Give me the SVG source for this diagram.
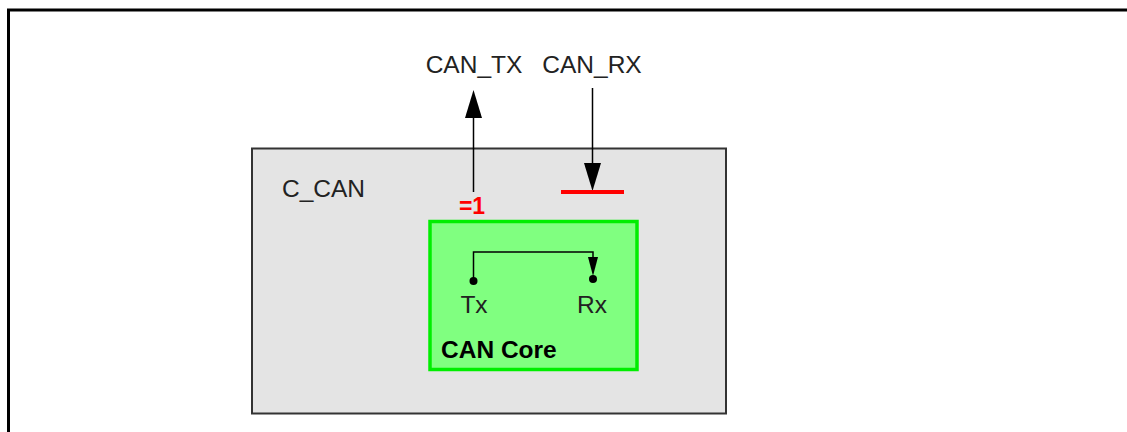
<svg xmlns="http://www.w3.org/2000/svg" width="1127" height="432" viewBox="0 0 1127 432">
<style>
.t{font-family:"Liberation Sans",Arial,sans-serif;font-size:24.5px;fill:#222}
.b{font-weight:bold}
.ln{stroke:#000;stroke-width:1.5;fill:none}
</style>
<rect width="1127" height="432" fill="#fff"/>
<rect x="8.5" y="10" width="1200" height="500" fill="none" stroke="#000" stroke-width="3"/>
<g id="c_can">
<rect x="252" y="148.5" width="474" height="265" fill="#e4e4e4" stroke="#333" stroke-width="2"/>
<text class="t" x="282" y="197">C_CAN</text>
</g>
<g id="can_core">
<rect x="430" y="221.5" width="207" height="148" fill="#80ff80" stroke="#00ee00" stroke-width="3.5"/>
<text class="t" x="474" y="313" text-anchor="middle">Tx</text>
<text class="t" x="592" y="313" text-anchor="middle">Rx</text>
<text class="t b" x="441" y="358" style="fill:#000">CAN Core</text>
</g>
<g id="labels">
<text class="t" x="474" y="73" text-anchor="middle">CAN_TX</text>
<text class="t" x="592" y="73" text-anchor="middle">CAN_RX</text>
<text class="t b" x="472" y="214" text-anchor="middle" style="fill:#ff0000;font-size:23px">=1</text>
</g>
<g id="connectors">
<line class="ln" x1="473.5" y1="192" x2="473.5" y2="115"/>
<polygon points="473.5,90 465,118 482,118" fill="#000"/>
<line class="ln" x1="592.5" y1="88" x2="592.5" y2="166"/>
<polygon points="592.5,191 584,163 601,163" fill="#000"/>
<line x1="561" y1="192" x2="624" y2="192" stroke="#ff0000" stroke-width="4"/>
<polyline class="ln" points="473.5,281 473.5,252 593,252 593,262"/>
<polygon points="593,276 588,257 598,257" fill="#000"/>
<circle cx="473.5" cy="281" r="4" fill="#000"/>
<circle cx="593" cy="279" r="4" fill="#000"/>
</g>
</svg>
